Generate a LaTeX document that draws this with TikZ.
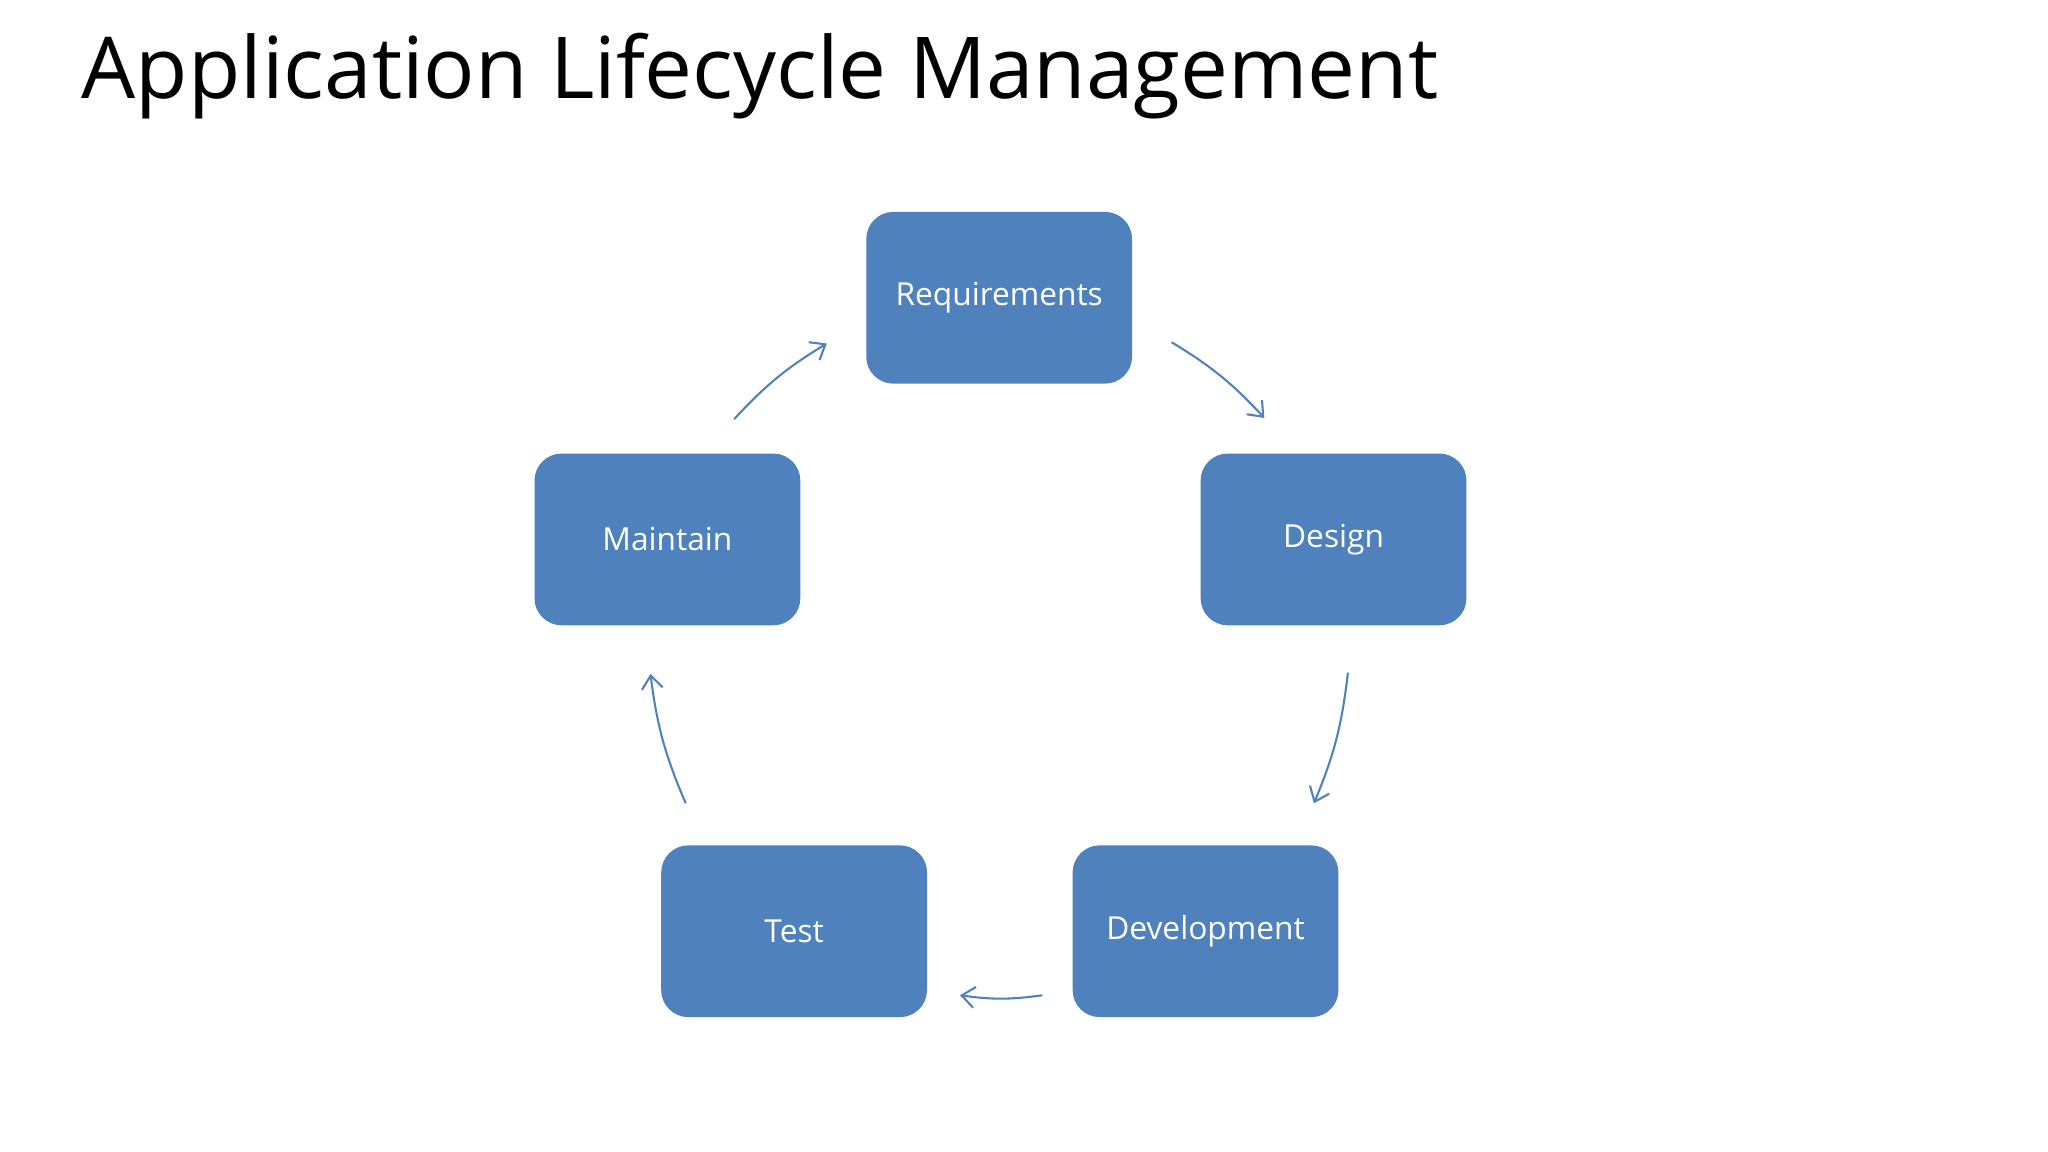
\documentclass[tikz,border=0pt]{standalone}
\usepackage{fontspec}
\setmainfont{Open Sans}
\usetikzlibrary{arrows.meta,positioning}
\definecolor{stepblue}{HTML}{4F81BD}
\tikzset{
  phase/.style={draw=stepblue, fill=stepblue, rounded corners=0.2cm,
    minimum width=2.02cm, minimum height=1.3cm, text=white,
    font=\fontsize{6.9pt}{8pt}\selectfont, inner sep=0pt},
  cyc/.style={draw=stepblue, line width=0.45pt, -{Straight Barb[length=1mm,width=1.6mm]}}
}
\begin{document}
\begin{tikzpicture}[x=0.01cm, y=-0.01cm]
  \useasboundingbox[fill=white] (0,0) rectangle (1568,882);
  % title
  \node[anchor=west, inner sep=0pt, font=\fontsize{18.6pt}{22pt}\selectfont] (title) at (62,58) {Application Lifecycle Management};

  % phases
  \node[phase] (req) at (765,228) {Requirements};
  \node[phase] (des) at (1021,413) {Design};
  \node[phase] (dev) at (923,713) {Development};
  \node[phase] (tst) at (608,713) {Test};
  \node[phase] (mnt) at (511,413) {Maintain};

  % arrow ends
  \coordinate (a1) at (897,262);  \coordinate (b1) at (968,320);
  \coordinate (a2) at (1032,515); \coordinate (b2) at (1006,615);
  \coordinate (a3) at (798,762);  \coordinate (b3) at (735,762);
  \coordinate (a4) at (525,615);  \coordinate (b4) at (498,516);
  \coordinate (a5) at (562,321);  \coordinate (b5) at (633,263);

  \draw[cyc] (a1) to[bend left=8] (b1);
  \draw[cyc] (a2) to[bend left=8] (b2);
  \draw[cyc] (a3) to[bend left=8] (b3);
  \draw[cyc] (a4) to[bend left=8] (b4);
  \draw[cyc] (a5) to[bend left=8] (b5);
\end{tikzpicture}
\end{document}
